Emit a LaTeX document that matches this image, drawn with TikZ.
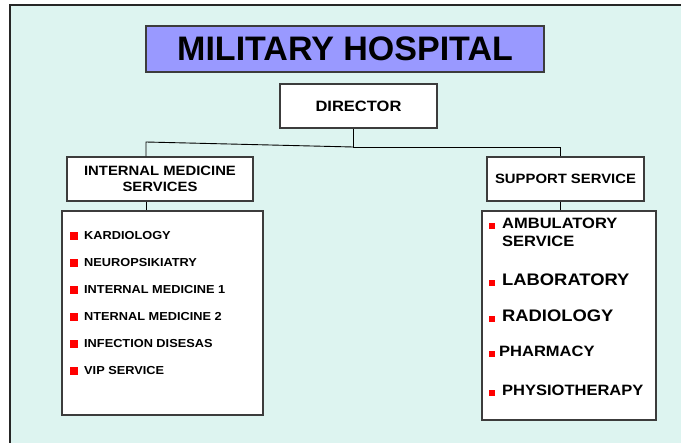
\documentclass[tikz,border=0pt]{standalone}
\usepackage{fontspec}
\setmainfont[FakeStretch=1.1]{Liberation Sans}
\newfontfamily\titlefont{Liberation Sans}
\definecolor{slidebg}{RGB}{221,244,240}
\definecolor{titleblue}{RGB}{153,153,255}
\definecolor{boxline}{RGB}{60,60,60}
\newcommand{\lsq}{\textcolor{red}{\rule{8pt}{8pt}}\hspace{6pt}}
\newcommand{\rsq}{\textcolor{red}{\rule{6pt}{6pt}}\hspace{7pt}}
\tikzset{
      orgbox/.style   = {draw=boxline, line width=1.1pt, fill=white, inner sep=0pt, align=center, font=\bfseries},
      listbox/.style  = {draw=boxline, line width=1.1pt, fill=white, inner sep=0pt},
      leftitem/.style = {anchor=base west, inner sep=0pt, font=\fontsize{11.6}{14}\selectfont\bfseries},
      rightitem/.style = {anchor=base west, inner sep=0pt, font=\fontsize{15}{18}\selectfont\bfseries},
      orgedge/.style  = {black, line width=0.9pt},
    }

\begin{document}
\begin{tikzpicture}[x=1pt,y=-1pt]
          \useasboundingbox (0,0) rectangle (681,443);
          \fill[slidebg] (10,5) rectangle (681,443);
          \draw[line width=2pt, black!85] (10,443) -- (10,5) -- (681,5);

          \node [orgbox, fill=titleblue, minimum width=398pt, minimum height=46pt,
                 font=\titlefont\fontsize{34}{36}\selectfont\bfseries] (title) at (345,49) {MILITARY HOSPITAL};
          \node [orgbox, minimum width=157pt, minimum height=44pt, font=\fontsize{15}{18}\selectfont\bfseries] (dir) at (358.5,106) {DIRECTOR};
          \node [orgbox, minimum width=186pt, minimum height=44pt, font=\fontsize{13.5}{16}\selectfont\bfseries] (ims) at (160,179) {INTERNAL MEDICINE\\SERVICES};
          \node [orgbox, minimum width=157pt, minimum height=44pt, font=\fontsize{13.5}{16}\selectfont\bfseries] (sup) at (565.5,179) {SUPPORT SERVICE};
          \node [listbox, minimum width=201pt, minimum height=204pt] (imlist) at (162.5,313) {};
          \node [listbox, minimum width=174pt, minimum height=209pt] (suplist) at (569,315.5) {};

          \coordinate (jn) at (353,147);
          \coordinate (lk) at (146,142);
          \coordinate (rk) at (560,147);

          \draw[orgedge] (dir.south -| jn) -- (jn) -- (rk) -- (rk |- sup.north);
          \draw[orgedge] (jn) -- (lk) -- (lk |- ims.north);
          \draw[orgedge] (ims.south -| lk) -- (lk |- imlist.north);
          \draw[orgedge] (sup.south -| rk) -- (rk |- suplist.north);

          % internal medicine units
          \foreach \unit [count=\i] in {KARDIOLOGY, NEUROPSIKIATRY, INTERNAL MEDICINE 1,
                                        NTERNAL MEDICINE 2, INFECTION DISESAS, VIP SERVICE}
            \node [leftitem] (med\i) at (70,{213+27*\i}) {\lsq\unit};

          % support units
          \node [rightitem] (amb) at (489,229) {\rsq\begin{tabular}[t]{@{}l@{}}AMBULATORY\\SERVICE\end{tabular}};
          \node [rightitem, font=\fontsize{16.7}{20}\selectfont\bfseries] (lab) at (489,286) {\rsq LABORATORY};
          \node [rightitem, font=\fontsize{16.7}{20}\selectfont\bfseries] (rad) at (489,322) {\rsq RADIOLOGY};
          \node [rightitem] (pha) at (489,357) {\textcolor{red}{\rule{6pt}{6pt}}\hspace{4pt}PHARMACY};
          \node [rightitem] (phy) at (489,396) {\rsq PHYSIOTHERAPY};
\end{tikzpicture}
\end{document}
